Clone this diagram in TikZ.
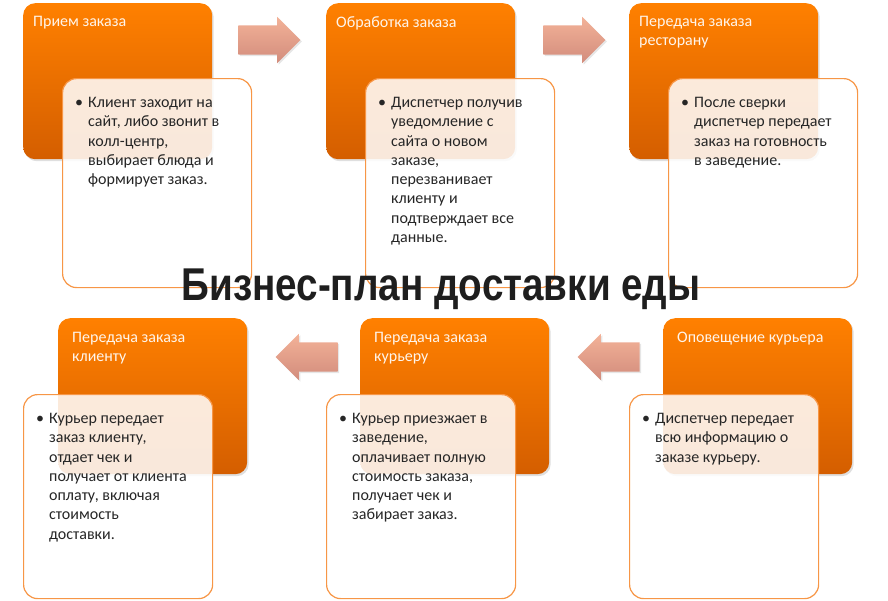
\documentclass[tikz,border=0pt]{standalone}
\usepackage{fontspec}
\setmainfont{Carlito}
\newfontfamily\titlefont[FakeStretch=0.84]{Liberation Sans}
\usetikzlibrary{shadows,shapes.arrows}

\definecolor{boxtop}{HTML}{FF8000}
\definecolor{boxbot}{HTML}{D45E00}
\definecolor{cardline}{HTML}{F79646}
\definecolor{arrtop}{HTML}{F3B298}
\definecolor{arrbot}{HTML}{D28C7C}
\definecolor{titlegray}{HTML}{1E1E1E}

% bullet hanging left of the first line
\newcommand\bul{\llap{•\hspace{5pt}}}

\tikzset{
  stagebox/.style={rectangle, rounded corners=12pt, minimum width=189pt,
    minimum height=156pt, inner sep=0pt, anchor=north west,
    top color=boxtop, bottom color=boxbot,
    drop shadow={opacity=0.25, shadow xshift=1.5pt, shadow yshift=-2pt}},
  stagehead/.style={anchor=north west, inner sep=0pt, align=left,
    text=white!92!orange, font=\fontsize{16}{19.5}\selectfont},
  infocard/.style={rectangle, rounded corners=14pt, minimum width=189pt,
    minimum height=209pt, inner sep=0pt, anchor=north west,
    draw=cardline, line width=1.2pt, fill=white, fill opacity=0.86},
  infotext/.style={anchor=north west, inner sep=0pt, align=left,
    text=black!85, font=\fontsize{16}{19.3}\selectfont},
  flowarrow/.style={single arrow, minimum height=62pt, text height=29pt,
    text depth=0pt, text width=0pt, single arrow head extend=8.5pt,
    single arrow tip angle=90, inner sep=0pt,
    top color=arrtop, bottom color=arrbot,
    drop shadow={opacity=0.2, shadow xshift=1.5pt, shadow yshift=-1.5pt}},
  pagetitle/.style={anchor=base, inner sep=0pt, text=titlegray,
    font=\titlefont\bfseries\fontsize{46}{50}\selectfont}
}

\begin{document}
\begin{tikzpicture}[x=1pt, y=-1pt]
  \useasboundingbox (0,0) rectangle (888,600);

  % top row: stages 1-3
  \node[stagebox] (order1) at (23,3) {};
  \node[stagebox] (order2) at (326,3) {};
  \node[stagebox] (order3) at (629,3) {};
  \node[stagehead] (head1) at ([shift={(10,13)}]order1.north west) {Прием заказа};
  \node[stagehead] (head2) at ([shift={(10,13)}]order2.north west) {Обработка заказа};
  \node[stagehead] (head3) at ([shift={(10,13)}]order3.north west) {Передача заказа\\ресторану};

  \node[infocard] (card1) at (62,78) {};
  \node[infocard] (card2) at (365,78) {};
  \node[infocard] (card3) at (668,78) {};
  \node[infotext] (text1) at ([shift={(26,19)}]card1.north west)
    {\bul Клиент заходит на\\сайт, либо звонит в\\колл-центр,\\выбирает блюда и\\формирует заказ.};
  \node[infotext] (text2) at ([shift={(26,19)}]card2.north west)
    {\bul Диспетчер получив\\уведомление с\\сайта о новом\\заказе,\\перезванивает\\клиенту и\\подтверждает все\\данные.};
  \node[infotext] (text3) at ([shift={(26,19)}]card3.north west)
    {\bul После сверки\\диспетчер передает\\заказ на готовность\\в заведение.};

  % arrows between the stages
  \node[flowarrow] (arrow12) at (262,40) {};
  \node[flowarrow] (arrow23) at (567,40) {};

  \node[pagetitle] (title) at (441,300) {Бизнес-план доставки еды};

  % bottom row: stages 4-6, right to left
  \node[stagebox] (order4) at (663,318) {};
  \node[stagebox] (order5) at (360,318) {};
  \node[stagebox] (order6) at (58,318) {};
  \node[stagehead] (head4) at ([shift={(14,14)}]order4.north west) {Оповещение курьера};
  \node[stagehead] (head5) at ([shift={(14,14)}]order5.north west) {Передача заказа\\курьеру};
  \node[stagehead] (head6) at ([shift={(14,14)}]order6.north west) {Передача заказа\\клиенту};

  \node[infocard, minimum height=204pt] (card4) at (629,394) {};
  \node[infocard, minimum height=204pt] (card5) at (326,394) {};
  \node[infocard, minimum height=204pt] (card6) at (23,394) {};
  \node[infotext] (text4) at ([shift={(26,19)}]card4.north west)
    {\bul Диспетчер передает\\всю информацию о\\заказе курьеру.};
  \node[infotext] (text5) at ([shift={(26,19)}]card5.north west)
    {\bul Курьер приезжает в\\заведение,\\оплачивает полную\\стоимость заказа,\\получает чек и\\забирает заказ.};
  \node[infotext] (text6) at ([shift={(26,19)}]card6.north west)
    {\bul Курьер передает\\заказ клиенту,\\отдает чек и\\получает от клиента\\оплату, включая\\стоимость\\доставки.};

  \node[flowarrow, shape border rotate=180] (arrow45) at (616,357) {};
  \node[flowarrow, shape border rotate=180] (arrow56) at (314,357) {};
\end{tikzpicture}
\end{document}
